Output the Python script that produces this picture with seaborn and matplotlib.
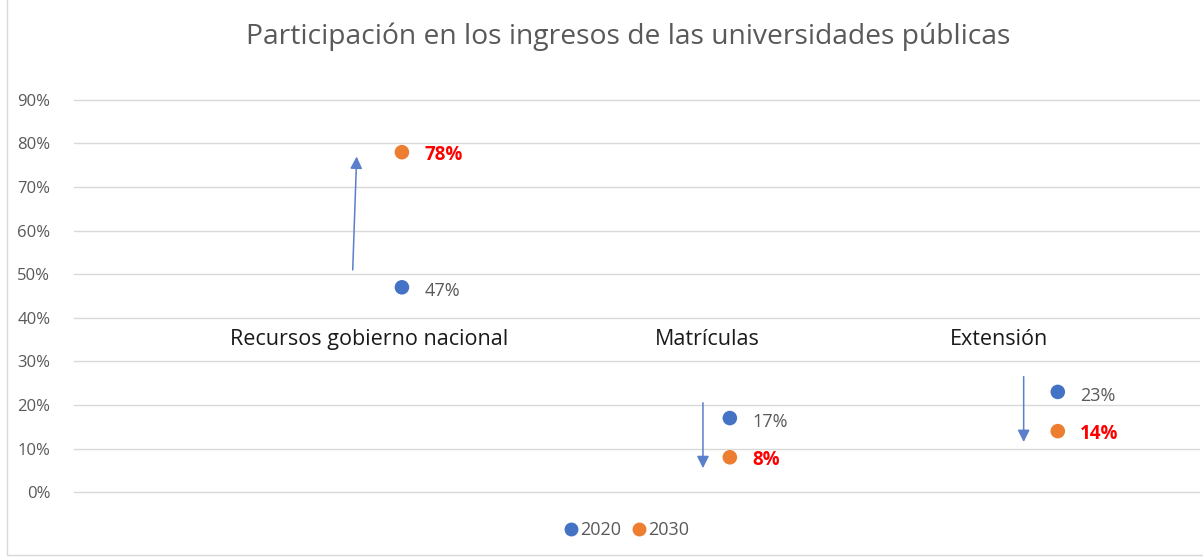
import matplotlib
matplotlib.use("Agg")
import matplotlib.pyplot as plt
import matplotlib.lines as mlines
import pandas as pd
import seaborn as sns
from matplotlib.ticker import PercentFormatter

# data
categories = ["Recursos gobierno nacional", "Matrículas", "Extensión"]
cat_pos = [1, 2, 3]
share_2020 = [0.47, 0.17, 0.23]
share_2030 = [0.78, 0.08, 0.14]
years = ["2020", "2030"]

BLUE = "#4472C4"
ORANGE = "#ED7D31"
GREY = "#595959"

df = pd.DataFrame({
    "pos": cat_pos * 2,
    "share": share_2020 + share_2030,
    "year": [years[0]] * 3 + [years[1]] * 3,
})

sns.set_theme(style="white")
plt.rcParams["font.family"] = ["Open Sans", "DejaVu Sans"]

fig = plt.figure(figsize=(12.03, 5.58), dpi=100)
ax = fig.add_axes([0.0615, 0.118, 0.935, 0.703])

sns.scatterplot(data=df, x="pos", y="share", hue="year",
                palette=[BLUE, ORANGE], s=110, edgecolor="none",
                legend=False, ax=ax, zorder=3)

ax.set_xlim(0, 3.43)
ax.set_ylim(0, 0.9)
ax.set_yticks([i / 10 for i in range(10)])
ax.yaxis.set_major_formatter(PercentFormatter(1.0, decimals=0))
ax.set_xticks([])
ax.set_xlabel("")
ax.set_ylabel("")
ax.grid(axis="y", color="#D9D9D9", linewidth=1)
for gl in ax.get_ygridlines():
    gl.set_clip_on(False)
for sp in ax.spines.values():
    sp.set_visible(False)
ax.tick_params(axis="y", length=0, pad=17, labelsize=12, labelcolor=GREY)

# value labels
for x, v in zip(cat_pos, share_2020):
    ax.annotate(f"{v:.0%}", (x, v), xytext=(16, -3), textcoords="offset points",
                ha="left", va="center", fontsize=13, color=GREY)
for x, v in zip(cat_pos, share_2030):
    ax.annotate(f"{v:.0%}", (x, v), xytext=(16, -2), textcoords="offset points",
                ha="left", va="center", fontsize=13.5, color="#FF0000",
                fontweight="bold")

# category names
label_dx = [-0.10, -0.07, -0.18]
for x, dx, name in zip(cat_pos, label_dx, categories):
    ax.text(x + dx, 0.35, name, ha="center", va="center", fontsize=15.5,
            color="#1a1a1a")

# change arrows
arrow_dx = [-0.15, -0.082, -0.104]
for x, dx, a, b in zip(cat_pos, arrow_dx, share_2020, share_2030):
    if b > a:
        start, end, tilt = a + 0.04, b - 0.01, 0.012
    else:
        start, end, tilt = a + 0.035, b - 0.025, 0.0
    ax.annotate("", xy=(x + dx + tilt, end), xytext=(x + dx, start),
                arrowprops=dict(arrowstyle="-|>", color="#5B7FCB", lw=1.1,
                                mutation_scale=18, shrinkA=0, shrinkB=0))

fig.suptitle("Participación en los ingresos de las universidades públicas",
             x=0.522, y=0.96, fontsize=20.3, color=GREY)

handles = [mlines.Line2D([], [], linestyle="none", marker="o", markersize=9,
                         color=c, label=y) for c, y in zip([BLUE, ORANGE], years)]
leg = fig.legend(handles=handles, loc="center", bbox_to_anchor=(0.52, 0.05),
                 ncol=2, frameon=False, fontsize=13, handletextpad=0.0,
                 columnspacing=0.5, handlelength=1.0)
for t in leg.get_texts():
    t.set_color(GREY)

# outer chart border
fig.add_artist(mlines.Line2D([0.006, 0.006], [0.005, 1.0], color="#D9D9D9", lw=1))
fig.add_artist(mlines.Line2D([0.006, 1.0], [0.005, 0.005], color="#D9D9D9", lw=1))

fig.savefig("out.png", dpi=100)
